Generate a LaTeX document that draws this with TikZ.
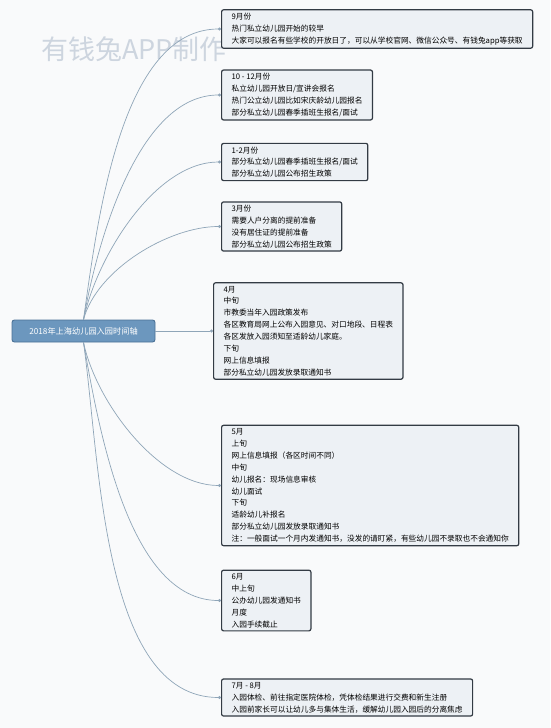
\documentclass[tikz,border=0pt]{standalone}
\usepackage{fontspec}
\usepackage[dvipsnames,svgnames,x11names]{xcolor}
\usepackage{tikz}
\usetikzlibrary{arrows.meta}
\newfontfamily\cjk{Noto Sans CJK SC}
\definecolor{pagebg}{HTML}{F9FAFB}
\definecolor{rootfill}{HTML}{6C97BE}
\definecolor{rootline}{HTML}{4A7196}
\definecolor{boxfill}{HTML}{EDF1F5}
\definecolor{boxline}{HTML}{333B44}
\definecolor{branchline}{HTML}{8FA5B8}
\definecolor{markfill}{HTML}{CDD5DF}

\begin{document}
\begin{tikzpicture}[x=1pt,y=-1pt,>=Stealth,
  rootbox/.style={rectangle,rounded corners=2.5pt,fill=rootfill,draw=rootline,line width=0.9pt,text=white,font=\cjk\fontsize{8.2}{10}\selectfont,minimum width=143pt,minimum height=22pt,inner sep=0pt},
  monthbox/.style={rectangle,rounded corners=2pt,fill=boxfill,draw=boxline,line width=1.2pt,text=black,font=\cjk\fontsize{7.7}{11.9}\selectfont,align=left,anchor=west,inner xsep=10pt,inner ysep=3.2pt},
  branch/.style={draw=branchline,line width=0.7pt,-{Circle[length=3pt]}},
  watermark/.style={text=markfill,font=\cjk\fontsize{27}{27}\selectfont,inner sep=0pt}]
\useasboundingbox[fill=pagebg] (0,0) rectangle (550,728);
\node[watermark] (mark) at (134,49) {有钱兔APP制作};
\node[rootbox] (root) at (83.5,331) {2018年上海幼儿园入园时间轴};
\node[monthbox] (sep) at (221,29) {9月份\\热门私立幼儿园开始的较早\\大家可以报名有些学校的开放日了，可以从学校官网、微信公众号、有钱兔app等获取};
\node[monthbox] (oct) at (221,95) {10 - 12月份\\私立幼儿园开放日/宣讲会报名\\热门公立幼儿园比如宋庆龄幼儿园报名\\部分私立幼儿园春季插班生报名/面试};
\node[monthbox] (jan) at (221,162) {1-2月份\\部分私立幼儿园春季插班生报名/面试\\部分私立幼儿园公布招生政策};
\node[monthbox] (mar) at (221,226.5) {3月份\\需要人户分离的提前准备\\没有居住证的提前准备\\部分私立幼儿园公布招生政策};
\node[monthbox] (apr) at (213,331) {4月\\中旬\\市教委当年入园政策发布\\各区教育局网上公布入园意见、对口地段、日程表\\各区发放入园须知至适龄幼儿家庭。\\下旬\\网上信息填报\\部分私立幼儿园发放录取通知书};
\node[monthbox] (may) at (221,485.5) {5月\\上旬\\网上信息填报（各区时间不同）\\中旬\\幼儿报名：现场信息审核\\幼儿面试\\下旬\\适龄幼儿补报名\\部分私立幼儿园发放录取通知书\\注：一般面试一个月内发通知书，没发的请盯紧，有些幼儿园不录取也不会通知你};
\node[monthbox] (jun) at (221,600.5) {6月\\中上旬\\公办幼儿园发通知书\\月度\\入园手续截止};
\node[monthbox] (jul) at (221,697.5) {7月 - 8月\\入园体检、前往指定医院体检，凭体检结果进行交费和新生注册\\入园前家长可以让幼儿多与集体生活，缓解幼儿园入园后的分离焦虑};
\draw[branch] (root.north) to[out=82,in=180,looseness=0.8] (sep.west);
\draw[branch] (root.north) to[out=80,in=180,looseness=0.8] (oct.west);
\draw[branch] (root.north) to[out=78,in=180,looseness=0.8] (jan.west);
\draw[branch] (root.north) to[out=75,in=180,looseness=0.8] (mar.west);
\draw[branch] (root.east) -- (apr.west);
\draw[branch] (root.south) to[out=-78,in=180,looseness=0.8] (may.west);
\draw[branch] (root.south) to[out=-80,in=180,looseness=0.8] (jun.west);
\draw[branch] (root.south) to[out=-82,in=180,looseness=0.8] (jul.west);
\end{tikzpicture}
\end{document}
